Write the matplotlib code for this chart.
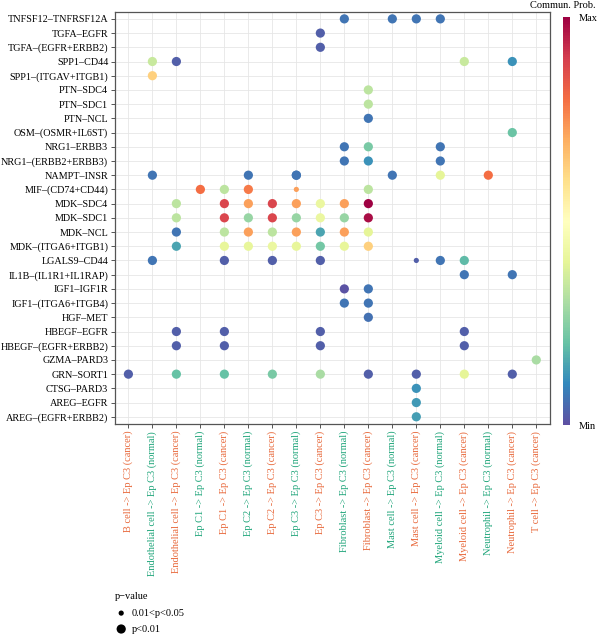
import matplotlib
matplotlib.use("Agg")
import matplotlib.pyplot as plt
import numpy as np
from matplotlib.cm import ScalarMappable
from matplotlib.colors import Normalize

plt.rcParams['font.family'] = ['Liberation Serif', 'DejaVu Serif']

# Y-axis ligand-receptor pairs (top to bottom)
pairs = ["TNFSF12–TNFRSF12A", "TGFA–EGFR", "TGFA–(EGFR+ERBB2)", "SPP1–CD44",
         "SPP1–(ITGAV+ITGB1)", "PTN–SDC4", "PTN–SDC1", "PTN–NCL",
         "OSM–(OSMR+IL6ST)", "NRG1–ERBB3", "NRG1–(ERBB2+ERBB3)", "NAMPT–INSR",
         "MIF–(CD74+CD44)", "MDK–SDC4", "MDK–SDC1", "MDK–NCL",
         "MDK–(ITGA6+ITGB1)", "LGALS9–CD44", "IL1B–(IL1R1+IL1RAP)", "IGF1–IGF1R",
         "IGF1–(ITGA6+ITGB4)", "HGF–MET", "HBEGF–EGFR", "HBEGF–(EGFR+ERBB2)",
         "GZMA–PARD3", "GRN–SORT1", "CTSG–PARD3", "AREG–EGFR", "AREG–(EGFR+ERBB2)"]

# X-axis source -> target groups
sources = ["B cell -> Ep C3 (cancer)", "Endothelial cell -> Ep C3 (normal)",
           "Endothelial cell -> Ep C3 (cancer)", "Ep C1 -> Ep C3 (normal)",
           "Ep C1 -> Ep C3 (cancer)", "Ep C2 -> Ep C3 (normal)",
           "Ep C2 -> Ep C3 (cancer)", "Ep C3 -> Ep C3 (normal)",
           "Ep C3 -> Ep C3 (cancer)", "Fibroblast -> Ep C3 (normal)",
           "Fibroblast -> Ep C3 (cancer)", "Mast cell -> Ep C3 (normal)",
           "Mast cell -> Ep C3 (cancer)", "Myeloid cell -> Ep C3 (normal)",
           "Myeloid cell -> Ep C3 (cancer)", "Neutrophil -> Ep C3 (normal)",
           "Neutrophil -> Ep C3 (cancer)", "T cell -> Ep C3 (cancer)"]

# Points: row index (pairs), column index (sources), scaled probability, p-value class (1: p<0.01, 0: 0.01<p<0.05)
pt_row = [0, 0, 0, 0,
          1, 2,
          3, 3, 3, 3,
          4, 5, 6, 7, 8,
          9, 9, 9,
          10, 10, 10,
          11, 11, 11, 11, 11, 11, 11,
          12, 12, 12, 12, 12,
          13, 13, 13, 13, 13, 13, 13, 13,
          14, 14, 14, 14, 14, 14, 14, 14,
          15, 15, 15, 15, 15, 15, 15, 15,
          16, 16, 16, 16, 16, 16, 16, 16,
          17, 17, 17, 17, 17, 17, 17,
          18, 18,
          19, 19,
          20, 20,
          21,
          22, 22, 22, 22,
          23, 23, 23, 23,
          24,
          25, 25, 25, 25, 25, 25, 25, 25, 25,
          26, 27, 28]
pt_col = [9, 11, 12, 13,
          8, 8,
          1, 2, 14, 16,
          1, 10, 10, 10, 16,
          9, 10, 13,
          9, 10, 13,
          1, 5, 7, 11, 13, 15, 7,
          3, 4, 5, 7, 10,
          2, 4, 5, 6, 7, 8, 9, 10,
          2, 4, 5, 6, 7, 8, 9, 10,
          2, 4, 5, 6, 7, 8, 9, 10,
          2, 4, 5, 6, 7, 8, 9, 10,
          1, 4, 6, 8, 12, 13, 14,
          14, 16,
          9, 10,
          9, 10,
          10,
          2, 4, 8, 14,
          2, 4, 8, 14,
          17,
          0, 2, 4, 6, 8, 10, 12, 14, 16,
          12, 12, 12]
pt_prob = [0.07, 0.07, 0.07, 0.07,
           0.03, 0.03,
           0.35, 0.03, 0.35, 0.12,
           0.63, 0.33, 0.33, 0.07, 0.21,
           0.07, 0.23, 0.07,
           0.07, 0.12, 0.07,
           0.07, 0.07, 0.07, 0.07, 0.40, 0.80, 0.07,
           0.80, 0.33, 0.78, 0.72, 0.33,
           0.33, 0.88, 0.72, 0.88, 0.72, 0.42, 0.72, 1.00,
           0.33, 0.88, 0.27, 0.88, 0.27, 0.42, 0.27, 0.98,
           0.07, 0.33, 0.72, 0.33, 0.72, 0.15, 0.72, 0.40,
           0.15, 0.41, 0.41, 0.42, 0.41, 0.22, 0.41, 0.63,
           0.07, 0.03, 0.03, 0.03, 0.03, 0.07, 0.19,
           0.07, 0.07,
           0.01, 0.07,
           0.07, 0.07,
           0.06,
           0.03, 0.03, 0.03, 0.03,
           0.03, 0.03, 0.03, 0.03,
           0.30,
           0.03, 0.20, 0.20, 0.23, 0.30, 0.03, 0.03, 0.40, 0.03,
           0.12, 0.13, 0.14]
pt_sig = [1, 1, 1, 1,
          1, 1,
          1, 1, 1, 1,
          1, 1, 1, 1, 1,
          1, 1, 1,
          1, 1, 1,
          1, 1, 1, 1, 1, 1, 1,
          1, 1, 1, 0, 1,
          1, 1, 1, 1, 1, 1, 1, 1,
          1, 1, 1, 1, 1, 1, 1, 1,
          1, 1, 1, 1, 1, 1, 1, 1,
          1, 1, 1, 1, 1, 1, 1, 1,
          1, 1, 1, 1, 0, 1, 1,
          1, 1,
          1, 1,
          1, 1,
          1,
          1, 1, 1, 1,
          1, 1, 1, 1,
          1,
          1, 1, 1, 1, 1, 1, 1, 1, 1,
          1, 1, 1]

pval_labels = ["0.01<p<0.05", "p<0.01"]
size_small, size_big = 14, 44

green = '#1FA57A'
orange = '#E8683A'

fig = plt.figure(figsize=(6.0, 6.36), dpi=100)
ax = fig.add_axes([0.192, 0.3335, 0.725, 0.648])

n_rows = len(pairs)
ycoord = [n_rows - 1 - r for r in pt_row]
sizes = [size_big if s else size_small for s in pt_sig]
cmap = plt.get_cmap('Spectral_r')
norm = Normalize(0, 1)
ax.scatter(pt_col, ycoord, c=pt_prob, cmap=cmap, norm=norm, s=sizes,
           linewidths=0, zorder=3)

ax.set_xlim(-0.55, len(sources) - 1 + 0.58)
ax.set_ylim(-0.5, n_rows - 0.5)
ax.set_yticks(range(n_rows))
ax.set_yticklabels(pairs[::-1], fontsize=7.3)
ax.set_xticks(range(len(sources)))
ax.set_xticklabels(sources, rotation=90, fontsize=7.5)
for lbl, name in zip(ax.get_xticklabels(), sources):
    lbl.set_color(green if 'normal' in name else orange)
ax.grid(True, color='#E6E6E6', linewidth=0.6, zorder=0)
ax.set_axisbelow(True)
for sp in ax.spines.values():
    sp.set_color('#555555')
    sp.set_linewidth(0.9)
ax.tick_params(axis='both', length=3, width=0.7, color='#555555', pad=2)

# colorbar
cax = fig.add_axes([0.938, 0.331, 0.012, 0.642])
cb = fig.colorbar(ScalarMappable(norm=norm, cmap=cmap), cax=cax)
cb.outline.set_visible(False)
cb.set_ticks([0, 1])
cb.set_ticklabels(['Min', 'Max'])
cax.tick_params(length=0, labelsize=7.5, pad=6)
fig.text(0.993, 0.985, 'Commun. Prob.', ha='right', va='bottom', fontsize=7.5)

# p-value legend
fig.text(0.192, 0.062, 'p−value', ha='left', va='center', fontsize=7.5)
lax = fig.add_axes([0.18, 0.0, 0.2, 0.05])
lax.set_xlim(0, 1)
lax.set_ylim(0, 1)
lax.axis('off')
lax.scatter([0.11, 0.11], [0.72, 0.22], s=[size_small, size_big], c='black', linewidths=0,
            clip_on=False)
lax.text(0.2, 0.72, pval_labels[0], va='center', fontsize=7.5)
lax.text(0.2, 0.22, pval_labels[1], va='center', fontsize=7.5)

fig.savefig('out.png', dpi=100)
